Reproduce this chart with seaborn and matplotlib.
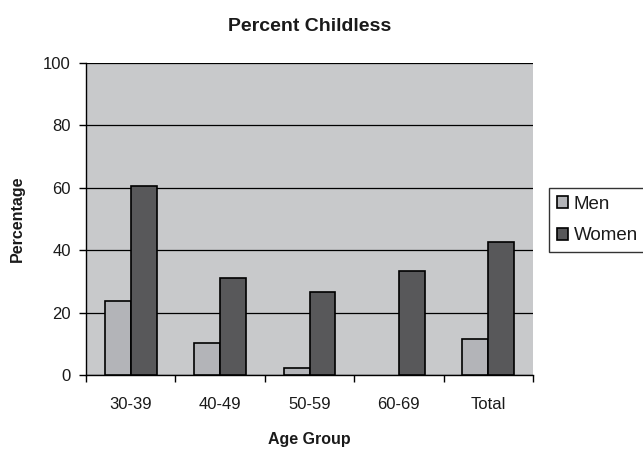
import pandas as pd
import matplotlib
matplotlib.use("Agg")
import matplotlib.pyplot as plt
import seaborn as sns

# ---- data ----
age_groups = ['30-39', '40-49', '50-59', '60-69', 'Total']
men = [23.7, 10.2, 2.3, 0.0, 11.5]
women = [60.7, 31.0, 26.5, 33.4, 42.7]

df = pd.DataFrame({
    'Age Group': age_groups * 2,
    'Percentage': men + women,
    'Sex': ['Men'] * len(age_groups) + ['Women'] * len(age_groups),
})

sns.set_style("white")
plt.rcParams['font.family'] = ['Liberation Sans', 'DejaVu Sans']
for key in ['text.color', 'axes.labelcolor', 'xtick.color', 'ytick.color']:
    plt.rcParams[key] = '#1a1a1a'

fig = plt.figure(figsize=(6.43, 4.49), dpi=100)
ax = fig.add_axes([0.1337, 0.1648, 0.6953, 0.6949])
ax.set_facecolor('#c8c9cb')

palette = {'Men': '#b3b4b8', 'Women': '#58585a'}
sns.barplot(data=df, x='Age Group', y='Percentage', hue='Sex', order=age_groups,
            palette=palette, width=0.58, gap=0, edgecolor='black', linewidth=1.2,
            saturation=1, ax=ax, zorder=3)

# zero-height bars are not drawn in the original
for cont in ax.containers:
    for bar in cont:
        if bar.get_height() == 0:
            bar.set_visible(False)

ax.set_ylim(0, 100)
ax.set_xlim(-0.5, len(age_groups) - 0.5)
ax.set_yticks(range(0, 101, 20))
ax.yaxis.grid(True, color='black', linewidth=0.9, zorder=1)
ax.set_axisbelow(True)

for s in ['top', 'right']:
    ax.spines[s].set_visible(False)
for s in ['left', 'bottom']:
    ax.spines[s].set_color('black')
    ax.spines[s].set_linewidth(1.0)

ax.tick_params(axis='y', which='major', length=5, width=1, color='black',
               direction='out', labelsize=12, left=True, pad=6)
ax.tick_params(axis='x', which='major', length=0, labelsize=12, pad=16)
ax.set_xticks([i + 0.5 for i in range(-1, len(age_groups))], minor=True)
ax.tick_params(axis='x', which='minor', length=5, width=1, color='black',
               direction='out', bottom=True)

ax.set_title('Percent Childless', fontsize=14, fontweight='bold', pad=23)
ax.set_xlabel('Age Group', fontsize=11.5, fontweight='bold', labelpad=14)
ax.set_ylabel('Percentage', fontsize=11.5, fontweight='bold', labelpad=13)

handles, labels = ax.get_legend_handles_labels()
ax.legend(handles, labels, loc='upper left',
          bbox_to_anchor=(549 / 643, 1 - 188 / 449), bbox_transform=fig.transFigure,
          frameon=True, fancybox=False, edgecolor='black', fontsize=13.5,
          handlelength=0.59, handleheight=0.59, handletextpad=0.32,
          borderpad=0.42, labelspacing=0.78, borderaxespad=0)
ax.get_legend().get_frame().set_linewidth(1.0)

fig.savefig('out.png', dpi=100)
